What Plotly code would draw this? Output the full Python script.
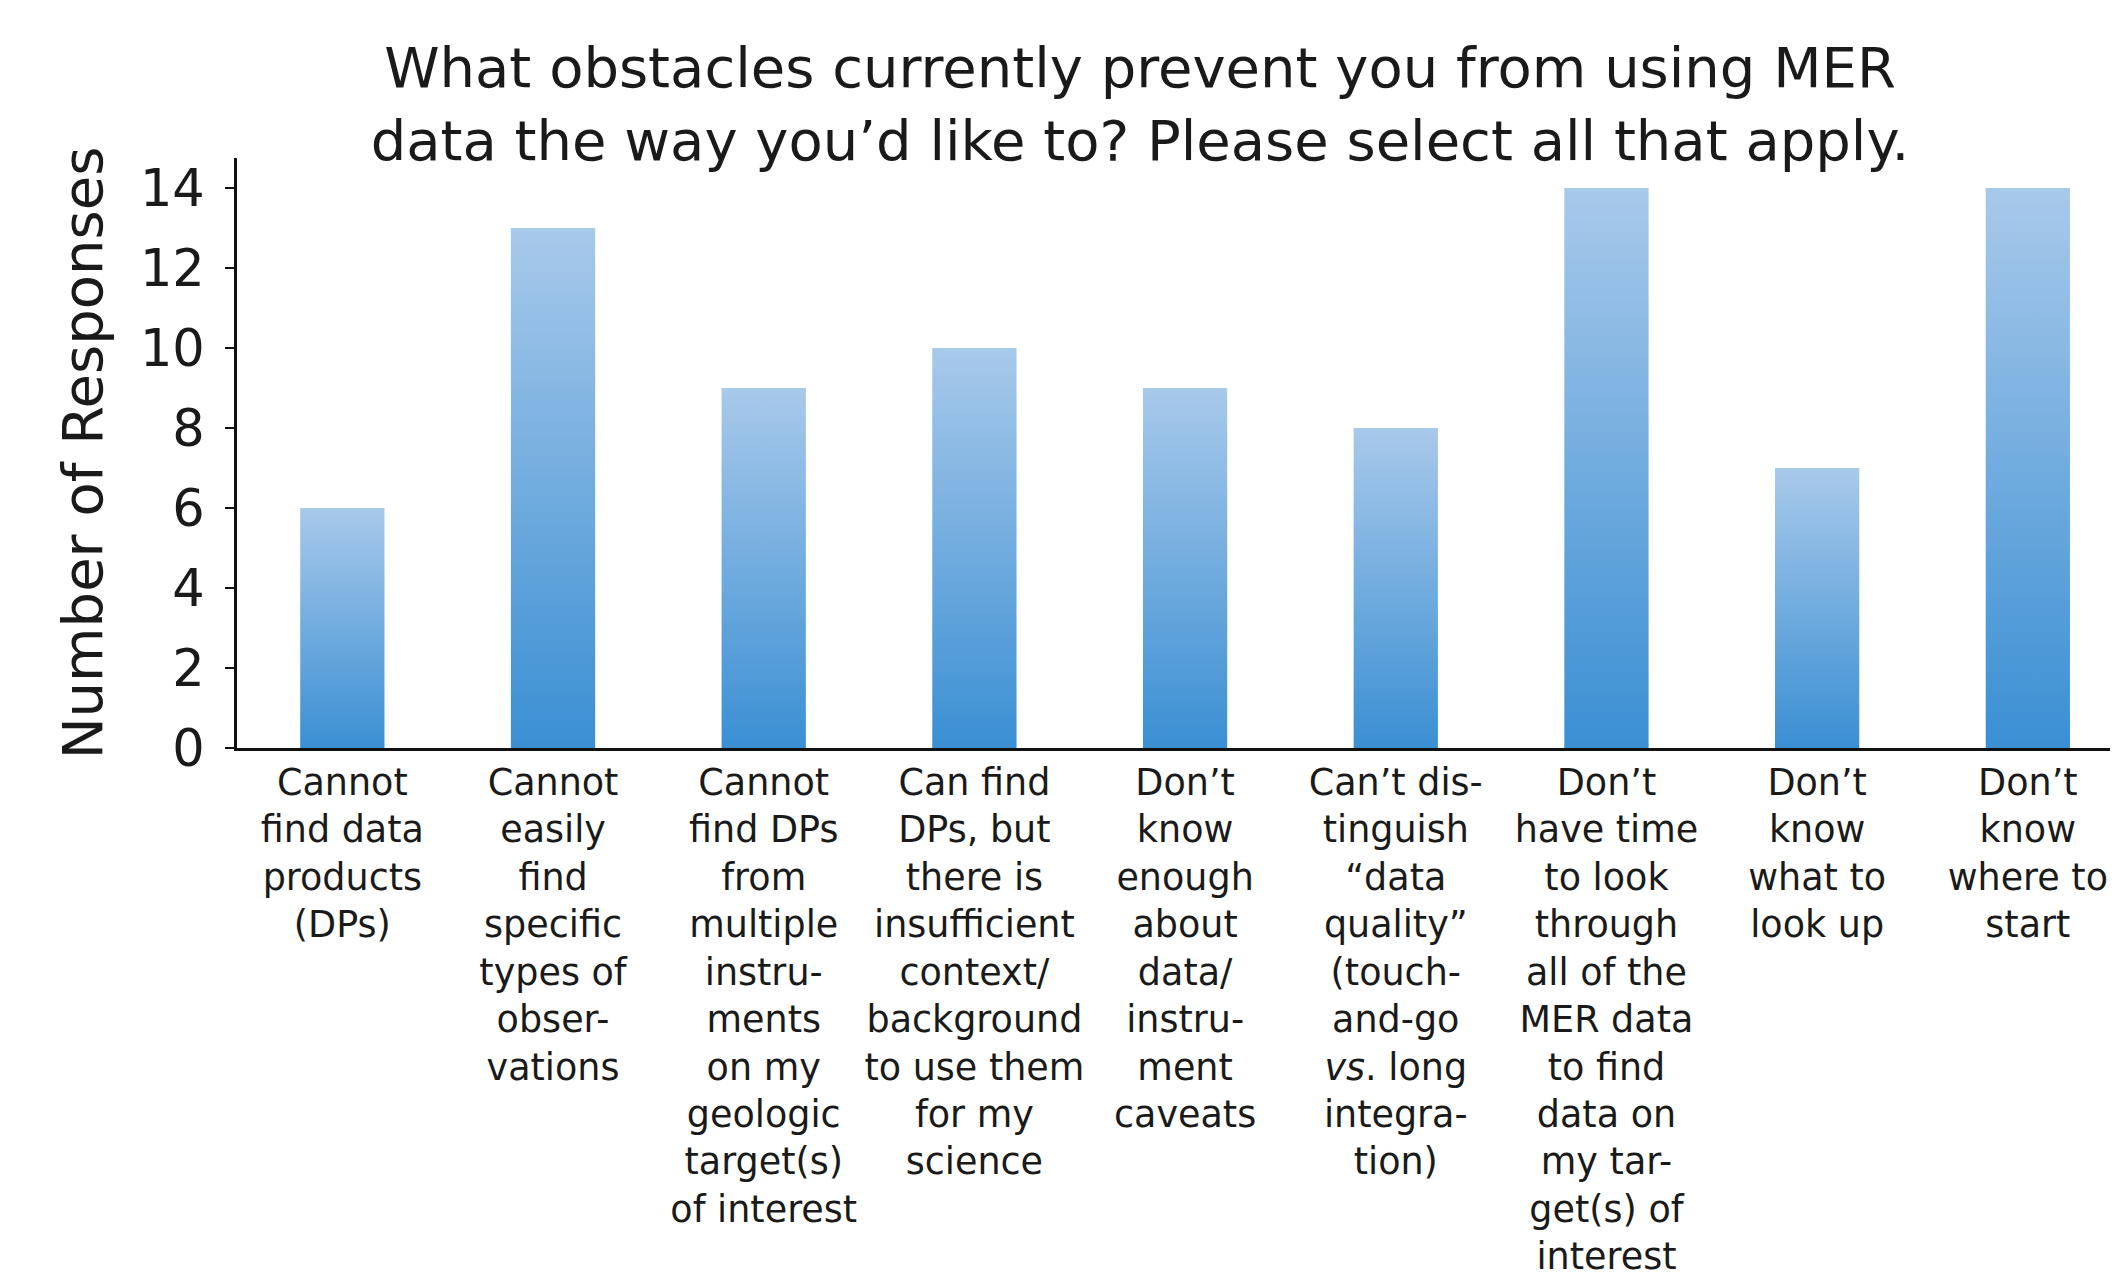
import plotly.graph_objects as go

categories = [
    "Cannot<br>find data<br>products<br>(DPs)",
    "Cannot<br>easily<br>find<br>specific<br>types of<br>obser-<br>vations",
    "Cannot<br>find DPs<br>from<br>multiple<br>instru-<br>ments<br>on my<br>geologic<br>target(s)<br>of interest",
    "Can find<br>DPs, but<br>there is<br>insufficient<br>context/<br>background<br>to use them<br>for my<br>science",
    "Don’t<br>know<br>enough<br>about<br>data/<br>instru-<br>ment<br>caveats",
    "Can’t dis-<br>tinguish<br>“data<br>quality”<br>(touch-<br>and-go<br><i>vs</i>. long<br>integra-<br>tion)",
    "Don’t<br>have time<br>to look<br>through<br>all of the<br>MER data<br>to find<br>data on<br>my tar-<br>get(s) of<br>interest",
    "Don’t<br>know<br>what to<br>look up",
    "Don’t<br>know<br>where to<br>start",
]
responses = [6, 13, 9, 10, 9, 8, 14, 7, 14]
y_ticks = [0, 2, 4, 6, 8, 10, 12, 14]

TITLE = "What obstacles currently prevent you from using MER<br>data the way you’d like to? Please select all that apply."
FONT = "DejaVu Sans, Verdana, sans-serif"
BAR_WIDTH = 0.4
DARK = "#3a8fd3"
LIGHT = "#a8c9ea"

fig = go.Figure()
for i, v in enumerate(responses):
    x0, x1 = i - BAR_WIDTH / 2, i + BAR_WIDTH / 2
    fig.add_trace(go.Scatter(
        x=[x0, x1, x1, x0, x0],
        y=[0, 0, v, v, 0],
        mode="lines",
        line=dict(width=0, color=DARK),
        fill="toself",
        fillcolor="#6fa8de",
        fillgradient=dict(type="vertical", start=0, stop=v,
                          colorscale=[[0, DARK], [1, LIGHT]]),
        hoverinfo="skip",
        showlegend=False,
    ))

fig.update_layout(
    width=2121, height=1279,
    paper_bgcolor="white", plot_bgcolor="white",
    font=dict(family=FONT, color="#1a1a1a"),
    margin=dict(l=229, r=19, t=150, b=539, autoexpand=False),
    title=dict(text=TITLE, x=1132 / 2121, xanchor="center", xref="container",
               y=1 - 79 / 1279, yanchor="top", yref="container",
               font=dict(size=56, family=FONT, color="#1a1a1a")),
    showlegend=False,
)
fig.update_xaxes(
    range=[-0.5, 8.39],
    tickmode="array", tickvals=list(range(len(categories))), ticktext=categories,
    tickangle=0, ticks="", showgrid=False, zeroline=False,
    showline=True, linecolor="#111", linewidth=3,
    tickfont=dict(size=36.5, family=FONT, color="#1a1a1a"),
    ticklabelstandoff=0, automargin=False,
)
fig.update_yaxes(
    range=[0, 14.75],
    tickmode="array", tickvals=y_ticks,
    ticks="outside", ticklen=9, tickwidth=2, tickcolor="#111",
    showgrid=False, zeroline=False,
    showline=True, linecolor="#111", linewidth=3,
    tickfont=dict(size=51, family=FONT, color="#1a1a1a"),
    ticklabelstandoff=10, automargin=False,
    title=dict(text="Number of Responses", standoff=20,
               font=dict(size=56, family=FONT, color="#1a1a1a")),
)

fig.write_html("out.html")
